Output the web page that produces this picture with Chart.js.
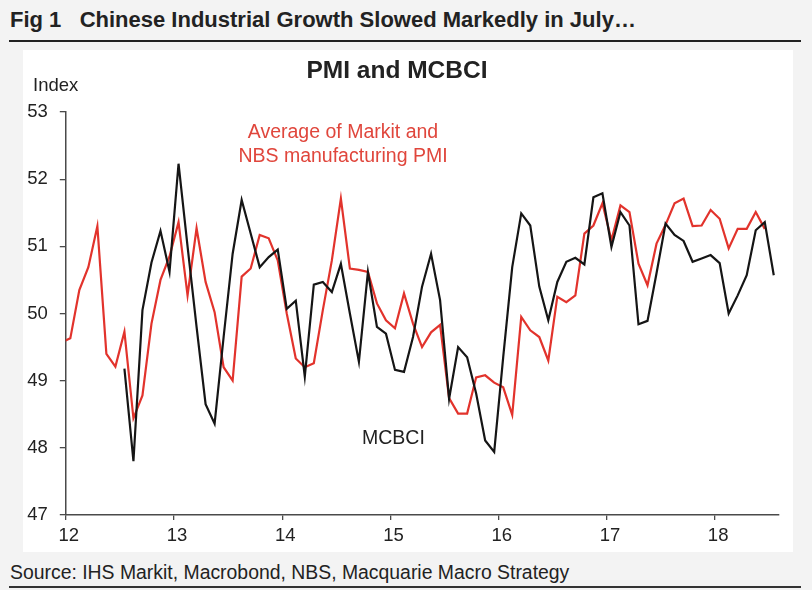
<!DOCTYPE html>
<html><head><meta charset="utf-8">
<script src="https://cdn.jsdelivr.net/npm/chart.js@4.4.1/dist/chart.umd.min.js"></script>
<style>
html,body{margin:0;padding:0;}
body{width:812px;height:590px;background:#f3f3f3;position:relative;overflow:hidden;font-family:"Liberation Sans",Arial,sans-serif;color:#222;}
.abs{position:absolute;white-space:nowrap;}
#title{left:10px;top:7px;font-size:22px;font-weight:bold;line-height:26px;}
#rule1{left:9px;top:40px;width:792px;height:2px;background:#222;}
#panel{left:23px;top:50px;width:770px;height:502px;background:#fff;}
#chart{position:absolute;left:0;top:0;}
#ctitle{left:247px;width:300px;text-align:center;top:55px;font-size:24.5px;font-weight:bold;line-height:30px;}
#index{left:33px;top:74px;font-size:18.5px;line-height:22px;}
#ann1{left:193px;width:300px;text-align:center;top:119px;font-size:19.5px;line-height:24px;color:#e0463c;}
#ann2{left:362px;top:426px;font-size:19.5px;line-height:22px;color:#222;}
#source{left:10px;top:560px;font-size:19.4px;line-height:24px;}
#rule2{left:9px;top:586px;width:792px;height:2px;background:#333;}
</style></head>
<body>
<div class="abs" id="title">Fig 1&nbsp;&nbsp;&nbsp;Chinese Industrial Growth Slowed Markedly in July…</div>
<div class="abs" id="rule1"></div>
<div class="abs" id="panel"><canvas id="chart" width="770" height="502"></canvas></div>
<div class="abs" id="ctitle">PMI and MCBCI</div>
<div class="abs" id="index">Index</div>
<div class="abs" id="ann1">Average of Markit and<br>NBS manufacturing PMI</div>
<div class="abs" id="ann2">MCBCI</div>
<div class="abs" id="source">Source: IHS Markit, Macrobond, NBS, Macquarie Macro Strategy</div>
<div class="abs" id="rule2"></div>
<script>
// Categories: months of the PMI series (Dec 2011 .. Jun 2018)
const pmiMonths = [
  "2011-12",
  "2012-01","2012-02","2012-03","2012-04","2012-05","2012-06","2012-07","2012-08","2012-09","2012-10","2012-11","2012-12",
  "2013-01","2013-02","2013-03","2013-04","2013-05","2013-06","2013-07","2013-08","2013-09","2013-10","2013-11","2013-12",
  "2014-01","2014-02","2014-03","2014-04","2014-05","2014-06","2014-07","2014-08","2014-09","2014-10","2014-11","2014-12",
  "2015-01","2015-02","2015-03","2015-04","2015-05","2015-06","2015-07","2015-08","2015-09","2015-10","2015-11","2015-12",
  "2016-01","2016-02","2016-03","2016-04","2016-05","2016-06","2016-07","2016-08","2016-09","2016-10","2016-11","2016-12",
  "2017-01","2017-02","2017-03","2017-04","2017-05","2017-06","2017-07","2017-08","2017-09","2017-10","2017-11","2017-12",
  "2018-01","2018-02","2018-03","2018-04","2018-05","2018-06"
];
// Average of Markit and NBS manufacturing PMI
const pmiValues = [
  49.57,
  49.63,50.35,50.69,51.30,49.40,49.21,49.73,48.44,48.78,49.85,50.50,50.85,
  51.36,50.27,51.27,50.47,50.02,49.20,49.00,50.55,50.67,51.17,51.12,50.79,
  50.00,49.33,49.20,49.26,50.05,50.79,51.71,50.67,50.65,50.62,50.15,49.90,
  49.78,50.30,49.85,49.50,49.72,49.83,48.74,48.51,48.51,49.05,49.08,48.97,
  48.90,48.49,49.95,49.75,49.65,49.30,50.25,50.17,50.27,51.19,51.31,51.64,
  51.09,51.61,51.51,50.74,50.42,51.04,51.32,51.64,51.71,51.30,51.31,51.54,
  51.41,50.97,51.26,51.26,51.51,51.26
];
// Categories: months of the MCBCI series (Jul 2012 .. Jul 2018)
const mcbciMonths = [
  "2012-07","2012-08","2012-09","2012-10","2012-11","2012-12",
  "2013-01","2013-02","2013-03","2013-04","2013-05","2013-06","2013-07","2013-08","2013-09","2013-10","2013-11","2013-12",
  "2014-01","2014-02","2014-03","2014-04","2014-05","2014-06","2014-07","2014-08","2014-09","2014-10","2014-11","2014-12",
  "2015-01","2015-02","2015-03","2015-04","2015-05","2015-06","2015-07","2015-08","2015-09","2015-10","2015-11","2015-12",
  "2016-01","2016-02","2016-03","2016-04","2016-05","2016-06","2016-07","2016-08","2016-09","2016-10","2016-11","2016-12",
  "2017-01","2017-02","2017-03","2017-04","2017-05","2017-06","2017-07","2017-08","2017-09","2017-10","2017-11","2017-12",
  "2018-01","2018-02","2018-03","2018-04","2018-05","2018-06","2018-07"
];
const mcbciValues = [
  49.18,47.80,50.05,50.76,51.23,50.62,
  52.23,51.00,49.80,48.65,48.36,49.65,50.89,51.69,51.19,50.69,50.84,50.95,
  50.07,50.19,49.06,50.43,50.47,50.32,50.74,50.00,49.28,50.62,49.80,49.70,
  49.16,49.13,49.65,50.40,50.89,50.20,48.73,49.50,49.35,48.81,48.11,47.94,
  49.35,50.69,51.49,51.31,50.40,49.90,50.47,50.77,50.83,50.73,51.73,51.79,
  50.99,51.51,51.31,49.84,49.89,50.60,51.34,51.17,51.08,50.77,50.82,50.87,
  50.75,50.00,50.27,50.57,51.24,51.36,50.57
];
// Axis tick labels (years)
const yearTicks = ["12","13","14","15","16","17","18"];
const yTicks = [47,48,49,50,51,52,53];

// month label -> position on a year axis (mid-month)
function monthPos(lbl){
  const [y,m] = lbl.split("-").map(Number);
  return (y - 2000) + (m - 0.5) / 12;
}
const toPoints = (months, vals) => months.map((mo,i)=>({x: monthPos(mo), y: vals[i]}));

const axisColor = "#4a4a4a";
new Chart(document.getElementById("chart"), {
  type: "line",
  data: {
    datasets: [
      { label: "MCBCI", data: toPoints(mcbciMonths, mcbciValues), borderColor: "#151515", borderWidth: 2.2, pointRadius: 0, tension: 0, order: 0 },
      { label: "PMI", data: toPoints(pmiMonths, pmiValues), borderColor: "#e2332c", borderWidth: 2.2, pointRadius: 0, tension: 0, order: 1 }
    ]
  },
  options: {
    responsive: false,
    animation: false,
    events: [],
    layout: { padding: { top: 62, right: 14, left: 0, bottom: 0 } },
    plugins: { legend: { display: false }, title: { display: false }, tooltip: { enabled: false } },
    scales: {
      x: {
        type: "linear",
        min: Number(yearTicks[0]),
        max: 18.59,
        afterFit: s => { s.height = 37; },
        afterBuildTicks: s => { s.ticks = yearTicks.map(t => ({ value: Number(t) })); },
        ticks: {
          callback: v => yearTicks.find(t => Number(t) === v) ?? "",
          color: "#222", font: { family: "Liberation Sans", size: 18.5 }, padding: 5, labelOffset: 3,
          maxRotation: 0, autoSkip: false
        },
        grid: { display: true, drawOnChartArea: false, drawTicks: true, tickLength: 5, color: axisColor, lineWidth: 1.3 },
        border: { display: true, color: axisColor, width: 1.5 }
      },
      y: {
        min: yTicks[0],
        max: yTicks[yTicks.length - 1],
        afterFit: s => { s.width = 42.8; },
        afterBuildTicks: s => { s.ticks = yTicks.map(v => ({ value: v })); },
        ticks: { color: "#222", font: { family: "Liberation Sans", size: 18.5 }, padding: 12 },
        grid: { display: true, drawOnChartArea: false, drawTicks: true, tickLength: 6, color: axisColor, lineWidth: 1.3 },
        border: { display: true, color: axisColor, width: 1.5 }
      }
    }
  }
});
</script>
</body></html>
